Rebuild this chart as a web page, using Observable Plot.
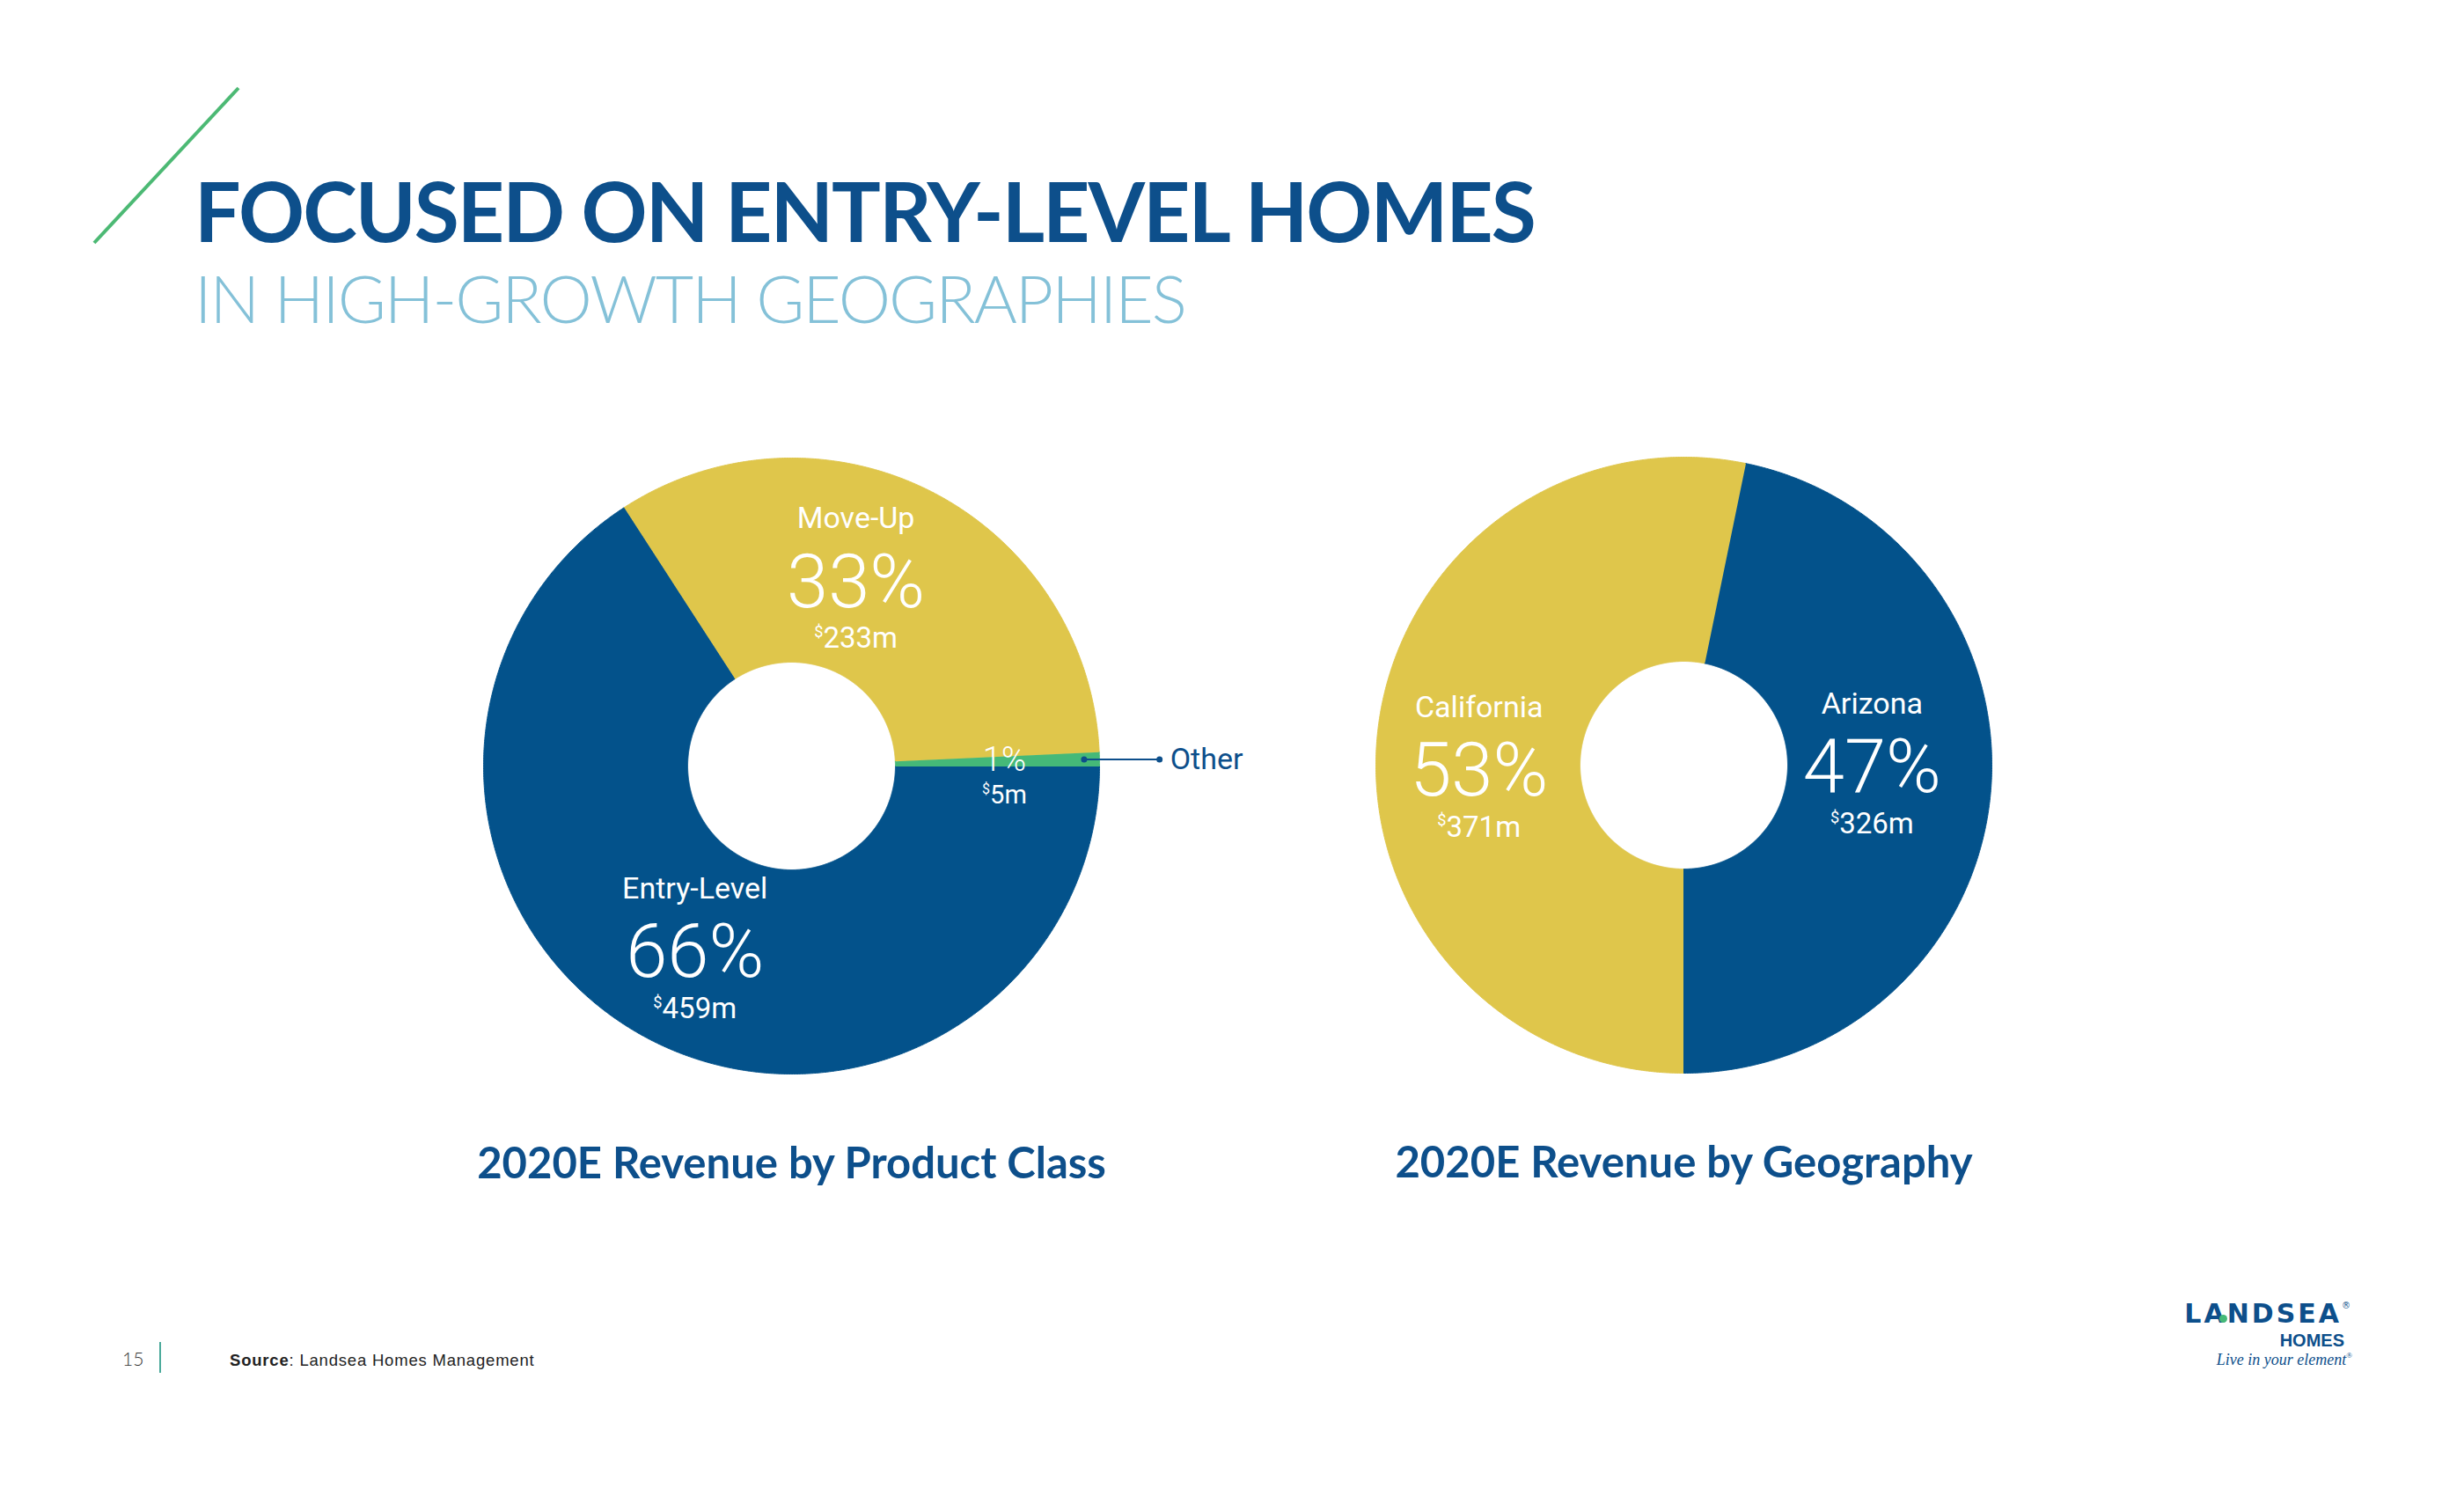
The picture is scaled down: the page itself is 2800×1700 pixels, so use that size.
<!DOCTYPE html>
<html>
<head>
<meta charset="utf-8">
<script src="https://cdn.jsdelivr.net/npm/d3@7"></script>
<script src="https://cdn.jsdelivr.net/npm/@observablehq/plot@0.6"></script>
<style>
  html, body { margin: 0; padding: 0; background: #ffffff; }
  #page { position: relative; width: 2800px; height: 1700px; overflow: hidden; background: #fff; }
  .abs { position: absolute; white-space: nowrap; line-height: 1; }
  #title { left: 221px; top: 193px; font-family: Lato, "Open Sans", sans-serif; font-weight: 700; font-size: 93px; color: #0d4f8b; letter-spacing: -2px; }
  #subtitle { left: 221px; top: 301px; font-family: Lato, "Open Sans", sans-serif; font-weight: 300; font-size: 75px; color: #84c1d8; letter-spacing: -2px; }
  #slash { position: absolute; left: 0; top: 0; }
  #pagenum { left: 139px; top: 1533px; font-family: Lato, sans-serif; font-weight: 300; font-size: 21px; color: #333; }
  #pagebar { position: absolute; left: 181px; top: 1525px; width: 1.5px; height: 35px; background: #4aa99a; }
  #source { left: 261px; top: 1537px; font-family: "Liberation Sans", Arial, sans-serif; font-size: 18.5px; color: #222; letter-spacing: 0.8px; }
  #source b { font-weight: 700; }
  #logo1 { right: 129px; top: 1477.6px; font-family: "DejaVu Sans", sans-serif; font-weight: 700; font-size: 30px; color: #0d4f8b; letter-spacing: 3px; }
  #logo1 sup { font-size: 10px; font-weight: 400; vertical-align: top; position: relative; top: 1px; letter-spacing: 0; }
  #logo2 { right: 136px; top: 1513px; font-family: "Liberation Sans", Arial, sans-serif; font-weight: 700; font-size: 20px; color: #0d4f8b; }
  #logo3 { right: 127px; top: 1536px; font-family: "Liberation Serif", serif; font-style: italic; font-size: 18px; color: #0d4f8b; }
  #logo3 sup { font-size: 9px; font-style: normal; vertical-align: top; }
  #logodot { position: absolute; left: 2522px; top: 1494px; width: 9px; height: 9px; border-radius: 50%; background: #45b978; }
  #chart { position: absolute; left: 0; top: 470px; }
  #chart g[aria-label="slice-name"] text, #chart g[aria-label="slice-money"] text,
  #chart g[aria-label="small-name"] text, #chart g[aria-label="small-money"] text { letter-spacing: 2px; }
  #chart g[aria-label="slice-pct"] text { letter-spacing: 4px; }
  #chart g[aria-label="small-pct"] text { letter-spacing: 1px; }
</style>
</head>
<body>
<div id="page">
  <svg id="slash" width="300" height="300"><line x1="271" y1="100" x2="107" y2="276" stroke="#4cb974" stroke-width="4"/></svg>
  <div id="title" class="abs">FOCUSED ON ENTRY-LEVEL HOMES</div>
  <div id="subtitle" class="abs">IN HIGH-GROWTH GEOGRAPHIES</div>
  <div id="chart"></div>
  <div id="pagenum" class="abs">15</div>
  <div id="pagebar"></div>
  <div id="source" class="abs"><b>Source</b>: Landsea Homes Management</div>
  <div id="logo1" class="abs">LANDSEA<sup>®</sup></div>
  <div id="logodot"></div>
  <div id="logo2" class="abs">HOMES</div>
  <div id="logo3" class="abs">Live in your element<sup>®</sup></div>
</div>
<script>
// ---- data ----
const productClasses = ["Entry-Level", "Move-Up", "Other"];
const productRevenue = [459, 233, 5];          // $m
const geographies = ["California", "Arizona"];
const geoRevenue = [371, 326];                 // $m
const chartTitles = ["2020E Revenue by Product Class", "2020E Revenue by Geography"];

// ---- styles / layout ----
const BLUE = "#03528b", YELLOW = "#dfc64b", GREEN = "#45b978", INK = "#0d4f8b";
const productPalette = [BLUE, YELLOW, GREEN];
const geoPalette = [YELLOW, BLUE];
const TOP = 470, W = 2800, H = 900;
const R = 350, R0 = 118;
const layouts = [
  {cx: 899, cy: 870, start: Math.PI / 2},
  {cx: 1913, cy: 869, start: Math.PI}
];
// label nudges (px) away from each slice's centroid, per chart, in slice order
const labelNudges = [
  [[2, 7], [-34, 0], [8, 0]],
  [[0, 31], [-19, -20]]
];
const specs = [
  {names: productClasses, values: productRevenue, palette: productPalette},
  {names: geographies, values: geoRevenue, palette: geoPalette}
];

const polys = [], labels = [], titles = [];
specs.forEach((s, ci) => {
  const L = layouts[ci];
  const items = s.names.map((name, i) => ({name, value: s.values[i], color: s.palette[i], i}));
  const total = d3.sum(items, d => d.value);
  const arcs = d3.pie().sort(null).value(d => d.value)
    .startAngle(L.start).endAngle(L.start + 2 * Math.PI)(items);
  const step = Math.PI / 720;
  for (const a of arcs) {
    const key = ci + ":" + a.data.name;
    const n = Math.max(2, Math.ceil((a.endAngle - a.startAngle) / step));
    for (let k = 0; k <= n; k++) {
      const t = a.startAngle + (a.endAngle - a.startAngle) * k / n;
      polys.push({key, color: a.data.color, x: L.cx + R * Math.sin(t), y: L.cy - R * Math.cos(t)});
    }
    for (let k = n; k >= 0; k--) {
      const t = a.startAngle + (a.endAngle - a.startAngle) * k / n;
      polys.push({key, color: a.data.color, x: L.cx + R0 * Math.sin(t), y: L.cy - R0 * Math.cos(t)});
    }
    const mid = (a.startAngle + a.endAngle) / 2;
    const rho = (R + R0) / 2;
    const share = a.data.value / total;
    const [nx, ny] = labelNudges[ci][a.data.i];
    labels.push({
      name: a.data.name,
      pct: Math.round(share * 100) + "%",
      money: "$" + a.data.value + "m",
      small: share < 0.05,
      lx: L.cx + rho * Math.sin(mid) + nx, ly: L.cy - rho * Math.cos(mid) + ny,
      ax: L.cx + 0.95 * R * Math.sin(mid), ay: L.cy - 0.95 * R * Math.cos(mid),
      bx: L.cx + 1.195 * R * Math.sin(mid), by: L.cy - 0.95 * R * Math.cos(mid)
    });
  }
  titles.push({title: chartTitles[ci], x: L.cx, y: L.cy + 468});
});
const big = labels.filter(d => !d.small);
const small = labels.filter(d => d.small);
const labelFont = "Roboto, 'Liberation Sans', sans-serif";

const plot = Plot.plot({
  width: W, height: H,
  margin: 0,
  x: {domain: [0, W], range: [0, W], axis: null},
  y: {domain: [TOP, TOP + H], range: [0, H], axis: null},
  color: {type: "identity"},
  style: {background: "transparent", overflow: "visible"},
  marks: [
    Plot.line(polys, {x: "x", y: "y", z: "key", fill: "color", stroke: "color", strokeWidth: 1, curve: "linear"}),
    Plot.text(big, {x: "lx", y: "ly", text: "name", dy: -62, lineAnchor: "bottom", fontSize: 34, fill: "white", fontFamily: labelFont, ariaLabel: "slice-name"}),
    Plot.text(big, {x: "lx", y: "ly", text: "pct", lineAnchor: "middle", fontSize: 85, fontWeight: 300, fill: "white", fontFamily: labelFont, ariaLabel: "slice-pct"}),
    Plot.text(big, {x: "lx", y: "ly", text: "money", dy: 74, lineAnchor: "bottom", fontSize: 33, fill: "white", fontFamily: labelFont, ariaLabel: "slice-money"}),
    Plot.text(small, {x: "lx", y: "ly", text: "pct", dy: 11, lineAnchor: "bottom", fontSize: 38, fontWeight: 300, fill: "white", fontFamily: labelFont, ariaLabel: "small-pct"}),
    Plot.text(small, {x: "lx", y: "ly", text: "money", dy: 48, lineAnchor: "bottom", fontSize: 29, fill: "white", fontFamily: labelFont, ariaLabel: "small-money"}),
    Plot.link(small, {x1: "ax", y1: "ay", x2: "bx", y2: "by", stroke: INK, strokeWidth: 2}),
    Plot.dot(small, {x: "ax", y: "ay", r: 3.5, fill: INK, stroke: null}),
    Plot.dot(small, {x: "bx", y: "by", r: 3.5, fill: INK, stroke: null}),
    Plot.text(small, {x: "bx", y: "by", text: "name", dx: 12, textAnchor: "start", lineAnchor: "middle", fontSize: 34, fill: INK, fontFamily: labelFont, ariaLabel: "small-name"}),
    Plot.text(titles, {x: "x", y: "y", text: "title", lineAnchor: "bottom", fontSize: 49, fontWeight: 700, fill: INK, fontFamily: "Lato, 'Open Sans', sans-serif", ariaLabel: "chart-title"})
  ]
});
document.getElementById("chart").appendChild(plot);

// superscript dollar signs in money labels
plot.querySelectorAll("text").forEach(t => {
  const s = t.textContent;
  if (s && s.startsWith("$") && t.children.length === 0) {
    const fs = parseFloat(t.getAttribute("font-size") || t.parentNode.getAttribute("font-size")) || 34;
    const ns = "http://www.w3.org/2000/svg";
    t.textContent = "";
    const a = document.createElementNS(ns, "tspan");
    a.setAttribute("font-size", (fs * 0.55).toFixed(1));
    a.setAttribute("dy", (-fs * 0.38).toFixed(1));
    a.textContent = "$";
    const b = document.createElementNS(ns, "tspan");
    b.setAttribute("dy", (fs * 0.38).toFixed(1));
    b.textContent = s.slice(1);
    t.appendChild(a); t.appendChild(b);
  }
});
</script>
</body>
</html>
